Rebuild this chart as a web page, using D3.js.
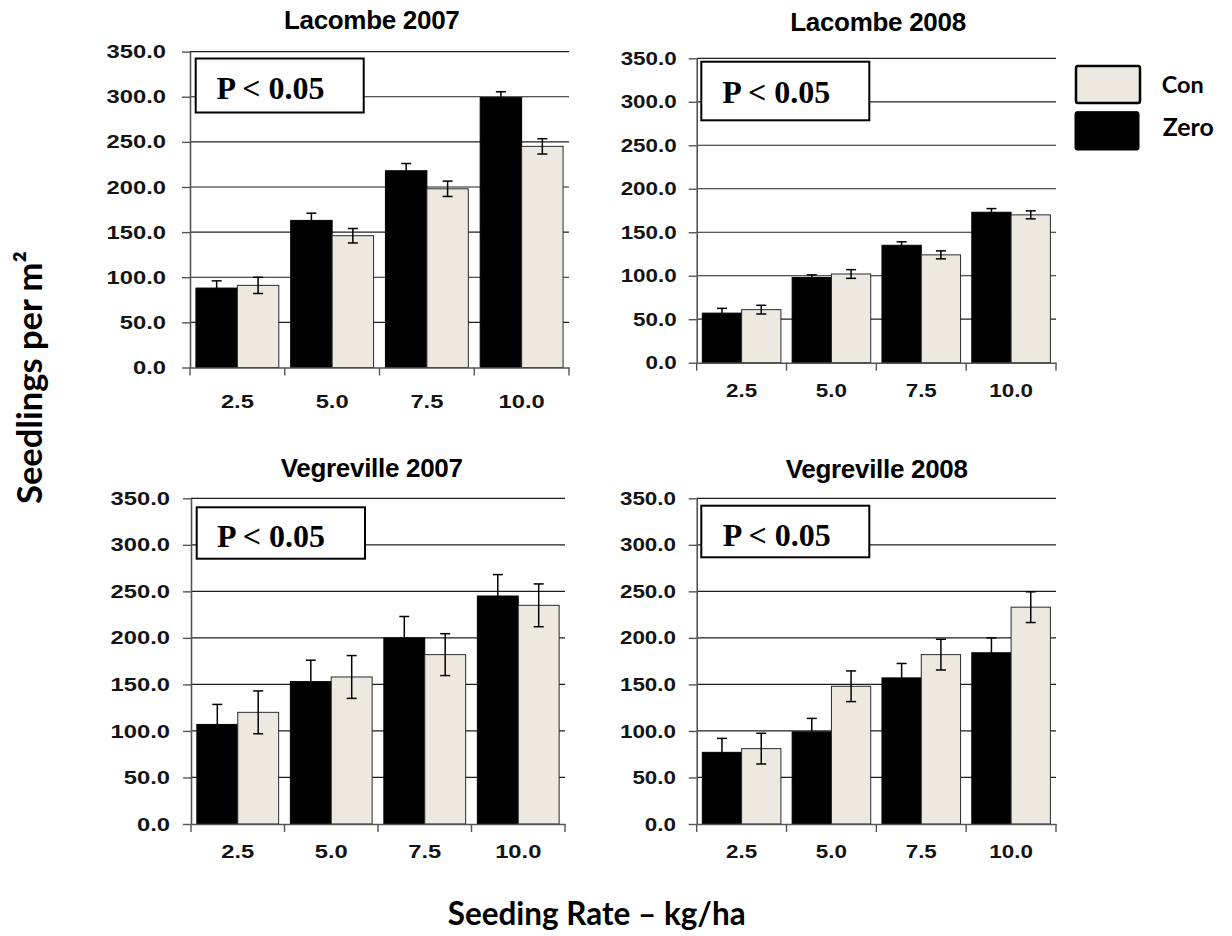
<!DOCTYPE html>
<html>
<head>
<meta charset="utf-8">
<script src="https://cdn.jsdelivr.net/npm/d3@7"></script>
<style>
  html, body { margin: 0; padding: 0; background: #fff; }
  svg { display: block; }
</style>
</head>
<body>
<svg id="chart" width="1232" height="936"></svg>
<script>
// ---- data -------------------------------------------------------------
const categories = ["2.5", "5.0", "7.5", "10.0"];
const yTicks = [0, 50, 100, 150, 200, 250, 300, 350];
const seriesNames = ["Con", "Zero"];
const panelTitles = ["Lacombe 2007", "Lacombe 2008", "Vegreville 2007", "Vegreville 2008"];
const pLabel = "P < 0.05";

const lacombe2007Zero    = [88, 163, 218, 299];
const lacombe2007ZeroErr = [8, 8, 8, 6.5];
const lacombe2007Con     = [91, 146, 198, 245];
const lacombe2007ConErr  = [9, 8, 8.5, 8.5];

const lacombe2008Zero    = [57, 98, 135, 173];
const lacombe2008ZeroErr = [5.5, 3, 4, 4.2];
const lacombe2008Con     = [61, 102, 124, 170];
const lacombe2008ConErr  = [5, 5, 4.6, 4.6];

const vegreville2007Zero    = [107, 153, 200, 245];
const vegreville2007ZeroErr = [21.5, 23, 23, 23];
const vegreville2007Con     = [120, 158, 182, 235];
const vegreville2007ConErr  = [23, 23, 22.5, 23];

const vegreville2008Zero    = [77, 99, 157, 184];
const vegreville2008ZeroErr = [15, 14.5, 15.5, 16];
const vegreville2008Con     = [81, 148, 182, 233];
const vegreville2008ConErr  = [16.5, 16.5, 16.5, 16.5];

// ---- styling ----------------------------------------------------------
const colors = { Zero: "#000000", Con: "#ECE9E0" };
const tickFont = "'Liberation Sans', Arial, sans-serif";
const titleFont = "'Liberation Sans', Arial, sans-serif";
const boxFont = "'Liberation Serif', 'Times New Roman', serif";
const labelFont = "Lato, 'Open Sans', sans-serif";

// panel frames (plot-area edges in page pixels)
const frames = [
  { left: 190,   right: 569,  top: 51.6, bottom: 367.5, titleX: 371.7, titleY: 29.3, gap: 24,   sx: 1.25, xLab: 41,
    box: [195.7, 58.5, 168, 54],   boxText: [216.5, 99] },
  { left: 696.7, right: 1056, top: 58.3, bottom: 362.7, titleX: 878,   titleY: 30.5, gap: 20,   sx: 1.18, xLab: 34,
    box: [701.3, 61.7, 168, 58.6], boxText: [722.3, 103.3] },
  { left: 191,   right: 565,  top: 498.3, bottom: 824,  titleX: 371.7, titleY: 476.7, gap: 21,  sx: 1.25, xLab: 34,
    box: [196.7, 507.3, 168.3, 51.4], boxText: [217, 546.7] },
  { left: 696.7, right: 1056, top: 498.3, bottom: 824,  titleX: 876.7, titleY: 478,  gap: 20.7, sx: 1.18, xLab: 34,
    box: [701.3, 505.7, 168, 51.6], boxText: [722.7, 546] }
];

const panels = [
  { title: panelTitles[0], zero: lacombe2007Zero, zeroErr: lacombe2007ZeroErr, con: lacombe2007Con, conErr: lacombe2007ConErr, frame: frames[0] },
  { title: panelTitles[1], zero: lacombe2008Zero, zeroErr: lacombe2008ZeroErr, con: lacombe2008Con, conErr: lacombe2008ConErr, frame: frames[1] },
  { title: panelTitles[2], zero: vegreville2007Zero, zeroErr: vegreville2007ZeroErr, con: vegreville2007Con, conErr: vegreville2007ConErr, frame: frames[2] },
  { title: panelTitles[3], zero: vegreville2008Zero, zeroErr: vegreville2008ZeroErr, con: vegreville2008Con, conErr: vegreville2008ConErr, frame: frames[3] }
];

const svg = d3.select("#chart");

// scale a text's font size so its rendered width equals the target
function fitWidth(sel, target) {
  const w = sel.node().getComputedTextLength();
  const fs = parseFloat(sel.attr("font-size"));
  if (w > 0) sel.attr("font-size", fs * target / w);
}

function drawPanel(p) {
  const f = p.frame;
  const x = d3.scaleBand().domain(categories).range([f.left, f.right]).padding(0);
  const xs = d3.scaleBand().domain(["Zero", "Con"]).range([0, x.bandwidth()])
    .paddingInner(0).paddingOuter(0.143);
  const y = d3.scaleLinear().domain([0, 350]).range([f.bottom, f.top]);

  const g = svg.append("g");

  // horizontal gridlines
  g.append("g").selectAll("line")
    .data(yTicks.filter(v => v > 0))
    .join("line")
    .attr("x1", f.left).attr("x2", f.right)
    .attr("y1", d => y(d)).attr("y2", d => y(d))
    .attr("stroke", "#1e1e1e").attr("stroke-width", 1.2);

  // significance box
  g.append("rect")
    .attr("x", f.box[0]).attr("y", f.box[1])
    .attr("width", f.box[2]).attr("height", f.box[3])
    .attr("fill", "#fff").attr("stroke", "#000").attr("stroke-width", 2);
  g.append("text")
    .attr("x", f.boxText[0]).attr("y", f.boxText[1])
    .attr("font-family", boxFont).attr("font-weight", "bold").attr("font-size", 32)
    .attr("fill", "#000")
    .text(pLabel);

  // bars
  const rows = categories.map((c, i) => ({
    cat: c,
    items: [
      { key: "Zero", v: p.zero[i], e: p.zeroErr[i] },
      { key: "Con",  v: p.con[i],  e: p.conErr[i] }
    ]
  }));

  const groups = g.append("g").selectAll("g")
    .data(rows).join("g")
    .attr("transform", d => `translate(${x(d.cat)},0)`);

  groups.selectAll("rect")
    .data(d => d.items).join("rect")
    .attr("x", d => xs(d.key))
    .attr("width", xs.bandwidth())
    .attr("y", d => y(d.v))
    .attr("height", d => y(0) - y(d.v))
    .attr("fill", d => colors[d.key])
    .attr("stroke", d => d.key === "Zero" ? "#000" : "#2a2a2a")
    .attr("stroke-width", 1);

  // error bars
  const capW = 10;
  const eb = groups.selectAll("g.err")
    .data(d => d.items).join("g").attr("class", "err")
    .attr("stroke", "#000").attr("stroke-width", 1.5);
  eb.append("line")
    .attr("x1", d => xs(d.key) + xs.bandwidth() / 2)
    .attr("x2", d => xs(d.key) + xs.bandwidth() / 2)
    .attr("y1", d => y(d.v - d.e)).attr("y2", d => y(d.v + d.e));
  eb.append("line")
    .attr("x1", d => xs(d.key) + xs.bandwidth() / 2 - capW / 2)
    .attr("x2", d => xs(d.key) + xs.bandwidth() / 2 + capW / 2)
    .attr("y1", d => y(d.v + d.e)).attr("y2", d => y(d.v + d.e));
  eb.append("line")
    .attr("x1", d => xs(d.key) + xs.bandwidth() / 2 - capW / 2)
    .attr("x2", d => xs(d.key) + xs.bandwidth() / 2 + capW / 2)
    .attr("y1", d => y(d.v - d.e)).attr("y2", d => y(d.v - d.e));

  // y axis
  const gy = g.append("g")
    .attr("transform", `translate(${f.left},0)`)
    .call(d3.axisLeft(y).tickValues(yTicks).tickFormat(d3.format(".1f")).tickSize(8).tickSizeOuter(0));
  gy.select(".domain").attr("stroke", "#555").attr("stroke-width", 1.6);
  gy.selectAll(".tick line").attr("stroke", "#555").attr("stroke-width", 1.4);
  gy.selectAll(".tick text")
    .attr("x", 0)
    .attr("transform", `translate(${-f.gap},0) scale(${f.sx},1)`)
    .attr("font-family", tickFont).attr("font-weight", "bold").attr("font-size", 19)
    .attr("fill", "#141414");

  // x axis (labels centred in each band)
  const gx = g.append("g")
    .attr("transform", `translate(0,${f.bottom})`)
    .call(d3.axisBottom(x).tickSize(0).tickSizeOuter(0));
  gx.select(".domain").attr("stroke", "#555").attr("stroke-width", 1.6);
  gx.selectAll(".tick text")
    .attr("y", f.xLab).attr("dy", null)
    .attr("transform", `scale(${f.sx},1)`)
    .attr("font-family", tickFont).attr("font-weight", "bold").attr("font-size", 19)
    .attr("fill", "#141414");

  // tick marks on band boundaries
  const bounds = categories.map(c => x(c)).concat([x.range()[1]]);
  g.append("g").selectAll("line")
    .data(bounds).join("line")
    .attr("x1", d => d).attr("x2", d => d)
    .attr("y1", f.bottom).attr("y2", f.bottom + 8)
    .attr("stroke", "#555").attr("stroke-width", 1.4);

  // panel title
  g.append("text")
    .attr("x", f.titleX).attr("y", f.titleY)
    .attr("text-anchor", "middle")
    .attr("font-family", titleFont).attr("font-weight", "bold").attr("font-size", 26)
    .attr("letter-spacing", -0.3)
    .attr("fill", "#000")
    .text(p.title);
}

panels.forEach(drawPanel);

// ---- legend -----------------------------------------------------------
const legend = svg.append("g");
const legendItems = [
  { name: seriesNames[0], rect: [1076, 66, 64, 37], text: [1161.7, 93.3], w: 42 },
  { name: seriesNames[1], rect: [1075, 111.7, 64, 38.3], text: [1162.7, 136], w: 51 }
];
legendItems.forEach(it => {
  legend.append("rect")
    .attr("x", it.rect[0]).attr("y", it.rect[1])
    .attr("width", it.rect[2]).attr("height", it.rect[3])
    .attr("rx", 2)
    .attr("fill", it.name === "Con" ? colors.Con : colors.Zero)
    .attr("stroke", "#000").attr("stroke-width", it.name === "Con" ? 2.5 : 1);
  const t = legend.append("text")
    .attr("x", it.text[0]).attr("y", it.text[1])
    .attr("font-family", labelFont).attr("font-weight", "bold").attr("font-size", 26)
    .attr("fill", "#000")
    .text(it.name);
  fitWidth(t, it.w);
});

// ---- axis titles ------------------------------------------------------
const xTitle = svg.append("text")
  .attr("x", 596.7).attr("y", 925)
  .attr("text-anchor", "middle")
  .attr("font-family", labelFont).attr("font-weight", "bold").attr("font-size", 32)
  .attr("fill", "#000")
  .text("Seeding Rate – kg/ha");
fitWidth(xTitle, 298);

const yTitle = svg.append("text")
  .attr("transform", "translate(41.7,377.5) rotate(-90)")
  .attr("text-anchor", "middle")
  .attr("font-family", labelFont).attr("font-weight", "bold").attr("font-size", 32)
  .attr("fill", "#000")
  .text("Seedlings per m²");
fitWidth(yTitle, 253);
</script>
</body>
</html>
